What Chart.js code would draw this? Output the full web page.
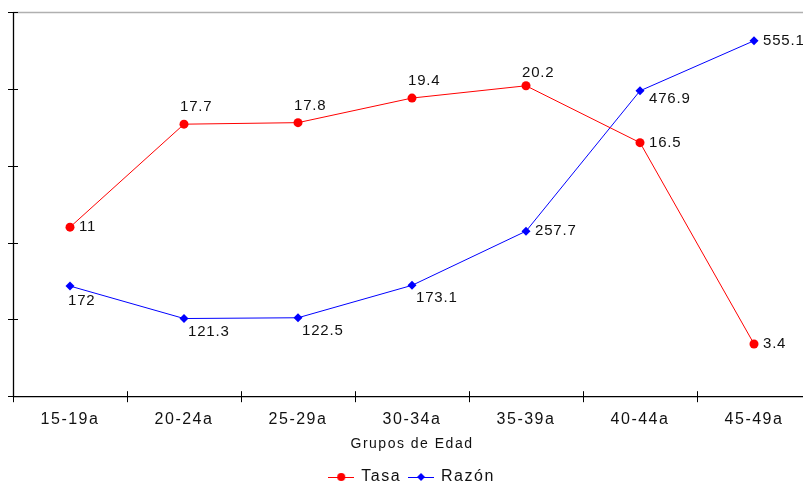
<!DOCTYPE html>
<html lang="es">
<head>
<meta charset="UTF-8">
<title>Tasa y Razón por Grupos de Edad</title>
<script src="https://cdn.jsdelivr.net/npm/chart.js"></script>
<style>
  html, body { margin: 0; padding: 0; background: #fff; }
  .wrap { width: 803px; height: 484px; overflow: hidden; }
</style>
</head>
<body>
<div class="wrap">
  <canvas id="chart" width="824" height="484"></canvas>
</div>
<script>
// data
const grupos = ['15-19a', '20-24a', '25-29a', '30-34a', '35-39a', '40-44a', '45-49a'];
const tasa = [11, 17.7, 17.8, 19.4, 20.2, 16.5, 3.4];
const razon = [172, 121.3, 122.5, 173.1, 257.7, 476.9, 555.1];
const tasaTicks = [0, 5, 10, 15, 20, 25];
const razonMax = 600;

// where each value label sits relative to its point
const tasaLabelPos = ['right', 'above', 'above', 'above', 'aboveNear', 'right', 'right'];
const razonLabelPos = ['below', 'belowRight', 'belowRight', 'belowRight', 'right', 'rightBelow', 'right'];

const FONT = 'Arial, "Liberation Sans", Helvetica, sans-serif';
const TEXT = '#111';

// small canvas for legend marker: line with a point on it
function legendMarker(color, style) {
  const c = document.createElement('canvas');
  c.width = 26; c.height = 10;
  const g = c.getContext('2d');
  g.strokeStyle = color; g.fillStyle = color; g.lineWidth = 1;
  g.beginPath(); g.moveTo(0, 5.5); g.lineTo(26, 5.5); g.stroke();
  g.beginPath();
  if (style === 'circle') {
    g.arc(13, 5, 4, 0, Math.PI * 2);
  } else {
    g.moveTo(13, 1); g.lineTo(17, 5); g.lineTo(13, 9); g.lineTo(9, 5); g.closePath();
  }
  g.fill();
  return c;
}

const spacing = {
  id: 'spacing',
  beforeLayout(chart) { chart.ctx.letterSpacing = '1.5px'; },
  beforeDraw(chart) { chart.ctx.letterSpacing = '1.5px'; }
};

const axesPlugin = {
  id: 'axesPlugin',
  beforeDatasetsDraw(chart) {
    const { ctx, chartArea: a, scales } = chart;
    ctx.save();
    // top frame line
    ctx.strokeStyle = '#b0b0b0';
    ctx.lineWidth = 1.5;
    ctx.beginPath(); ctx.moveTo(a.left, a.top + 0.5); ctx.lineTo(a.right, a.top + 0.5); ctx.stroke();
    // left and bottom axes
    ctx.strokeStyle = '#000';
    ctx.lineWidth = 1.3;
    ctx.beginPath();
    ctx.moveTo(a.left + 0.5, a.top); ctx.lineTo(a.left + 0.5, a.bottom + 0.5);
    ctx.lineTo(a.right, a.bottom + 0.5);
    ctx.stroke();
    ctx.lineWidth = 1;
    ctx.beginPath();
    tasaTicks.forEach(v => {
      const y = Math.round(scales.y.getPixelForValue(v)) + 0.5;
      ctx.moveTo(a.left - 5, y); ctx.lineTo(a.left + 5, y);
    });
    const step = (a.right - a.left) / grupos.length;
    for (let i = 0; i <= grupos.length; i++) {
      const x = Math.round(a.left + i * step) + 0.5;
      ctx.moveTo(x, a.bottom - 5); ctx.lineTo(x, a.bottom + 6);
    }
    ctx.stroke();
    ctx.restore();
  }
};

const valueLabels = {
  id: 'valueLabels',
  afterDatasetsDraw(chart) {
    const { ctx } = chart;
    const placements = [tasaLabelPos, razonLabelPos];
    ctx.save();
    ctx.letterSpacing = '0.8px';
    ctx.font = '15px ' + FONT;
    ctx.fillStyle = TEXT;
    ctx.textAlign = 'left';
    ctx.textBaseline = 'middle';
    chart.data.datasets.forEach((ds, di) => {
      chart.getDatasetMeta(di).data.forEach((pt, i) => {
        const p = placements[di][i];
        let dx = 10, dy = 0;
        if (p === 'above') { dx = -4; dy = -17; }
        else if (p === 'aboveNear') { dx = -4; dy = -13; }
        else if (p === 'below') { dx = -2; dy = 15; }
        else if (p === 'belowRight') { dx = 4; dy = 13; }
        else if (p === 'rightBelow') { dx = 9; dy = 8; }
        else if (p === 'right') { dx = 9; dy = 0; }
        ctx.fillText(String(ds.data[i]), pt.x + dx, pt.y + dy);
      });
    });
    ctx.restore();
  }
};

new Chart(document.getElementById('chart'), {
  type: 'line',
  data: {
    labels: grupos,
    datasets: [
      {
        label: 'Tasa',
        data: tasa,
        yAxisID: 'y',
        borderColor: '#ff0000',
        backgroundColor: '#ff0000',
        borderWidth: 1,
        pointStyle: 'circle',
        pointRadius: 4.5,
        pointBorderWidth: 0,
        tension: 0
      },
      {
        label: 'Razón',
        data: razon,
        yAxisID: 'y2',
        borderColor: '#0000ff',
        backgroundColor: '#0000ff',
        borderWidth: 1,
        pointStyle: 'rectRot',
        pointRadius: 4.5,
        pointBorderWidth: 0,
        tension: 0
      }
    ]
  },
  options: {
    responsive: false,
    animation: false,
    layout: { padding: { left: 13, top: 12, right: 13, bottom: -11 } },
    scales: {
      x: {
        offset: true,
        grid: { display: false, drawTicks: false },
        border: { display: false },
        ticks: { color: TEXT, font: { family: FONT, size: 16, lineHeight: 1 }, padding: 15, maxRotation: 0 },
        title: {
          display: true,
          text: 'Grupos de Edad',
          color: TEXT,
          font: { family: FONT, size: 14 },
          padding: { top: -6, bottom: 8 }
        }
      },
      y: { display: false, min: 0, max: 25 },
      y2: { display: false, min: 0, max: razonMax }
    },
    plugins: {
      tooltip: { enabled: false },
      legend: {
        position: 'bottom',
        labels: {
          color: TEXT,
          font: { family: FONT, size: 16 },
          usePointStyle: true,
          pointStyleWidth: 24,
          padding: 8,
          generateLabels(chart) {
            return chart.data.datasets.map((ds, i) => ({
              text: ds.label,
              fillStyle: ds.borderColor,
              strokeStyle: ds.borderColor,
              fontColor: TEXT,
              lineWidth: 0,
              pointStyle: legendMarker(ds.borderColor, i === 0 ? 'circle' : 'diamond'),
              datasetIndex: i,
              hidden: false
            }));
          }
        }
      }
    }
  },
  plugins: [spacing, axesPlugin, valueLabels]
});
</script>
</body>
</html>
